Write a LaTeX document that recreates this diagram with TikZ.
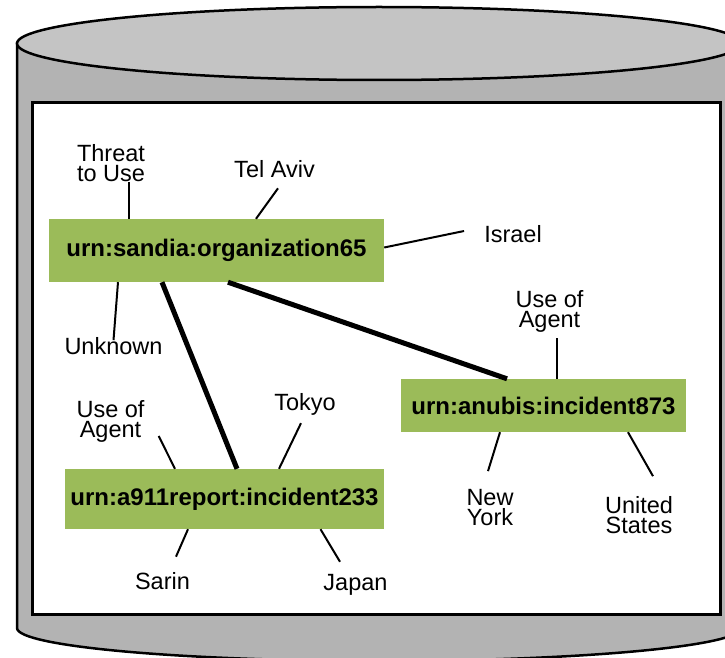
\documentclass[tikz,border=0pt]{standalone}
\usepackage{fontspec}
\setmainfont{Liberation Sans}
\usepackage{tikz}
\usetikzlibrary{positioning}
\definecolor{urngreen}{HTML}{9BBB59}
\definecolor{cylside}{HTML}{B3B3B3}
\definecolor{cyltop}{HTML}{C4C4C4}

\begin{document}
\begin{tikzpicture}[x=1pt, y=-1pt,
  urn/.style={fill=urngreen, inner sep=0pt, font=\fontsize{24}{24}\selectfont\bfseries},
  attr/.style={align=center, inner sep=0pt, font=\fontsize{23.5}{20}\selectfont},
  leg/.style={line width=2pt},
  link/.style={line width=5pt}]
  \useasboundingbox (0,0) rectangle (725,658);
  \clip (0,0) rectangle (725,658);

  % Cylinder
  \filldraw[fill=cylside, line width=2.5pt] (17,43.5) -- (17,628)
    arc[start angle=180, end angle=0, x radius=362, y radius=33] -- (741,43.5) -- cycle;
  \filldraw[fill=cyltop, line width=2.5pt] (379,43.5) ellipse[x radius=362, y radius=36.5];
  \draw[fill=white, line width=3pt] (32,103) rectangle (720,614);

  \node[urn, minimum width=335pt, minimum height=63pt] (org) at (216.5,250.5) {urn:sandia:organization65};
  \node[urn, minimum width=285pt, minimum height=53pt] (anubis) at (543.5,405.5) {urn:anubis:incident873};
  \node[urn, minimum width=319pt, minimum height=60pt] (a911) at (224.5,499) {urn:a911report:incident233};

  \node[attr] (threat) at (111,163.5) {Threat\\to Use};
  \node[attr] (telaviv) at (274.5,169.5) {Tel Aviv};
  \node[attr] (israel) at (513,234.5) {Israel};
  \node[attr] (unknown) at (113.5,346) {Unknown};
  \node[attr] (useagentb) at (549.5,311.5) {Use of\\Agent};
  \node[attr] (newyork) at (490,507.5) {New\\York};
  \node[attr] (unitedstates) at (639,515) {United\\States};
  \node[attr] (useagenta) at (110.5,421.5) {Use of\\Agent};
  \node[attr] (tokyo) at (305,404.5) {Tokyo};
  \node[attr] (sarin) at (162.5,581.5) {Sarin};
  \node[attr] (japan) at (355.5,584.5) {Japan};

  % Links
  \draw[link] ([xshift=-54.5pt]org.south) -- ([xshift=12.5pt]a911.north);
  \draw[link] ([xshift=11.5pt]org.south) -- ([xshift=-36.5pt]anubis.north);

  \draw[leg] ([xshift=-87.5pt]org.north) -- ([xshift=18pt]threat.south);
  \draw[leg] ([xshift=39.5pt]org.north) -- ([xshift=3.5pt,yshift=-10pt]telaviv.south);
  \draw[leg] ([yshift=3pt]org.east) -- ([xshift=-20pt,yshift=3.5pt]israel.west);
  \draw[leg] ([xshift=-98.5pt]org.south) -- ([yshift=-3pt]unknown.north);
  \draw[leg] ([xshift=13.5pt]anubis.north) -- ([xshift=7.5pt,yshift=-5pt]useagentb.south);
  \draw[leg] ([xshift=-43.5pt]anubis.south) -- ([xshift=-2pt,yshift=18pt]newyork.north);
  \draw[leg] ([xshift=84.5pt]anubis.south) -- ([xshift=14pt,yshift=20pt]unitedstates.north);
  \draw[leg] ([xshift=-49.5pt]a911.north) -- ([xshift=14pt,yshift=-14.5pt]useagenta.east);
  \draw[leg] ([xshift=54.5pt]a911.north) -- ([xshift=-4pt,yshift=-7.5pt]tokyo.south);
  \draw[leg] ([xshift=-36.5pt]a911.south) -- ([xshift=13.5pt,yshift=16pt]sarin.north);
  \draw[leg] ([xshift=96pt]a911.south) -- ([xshift=-15.5pt,yshift=12pt]japan.north);
\end{tikzpicture}
\end{document}
